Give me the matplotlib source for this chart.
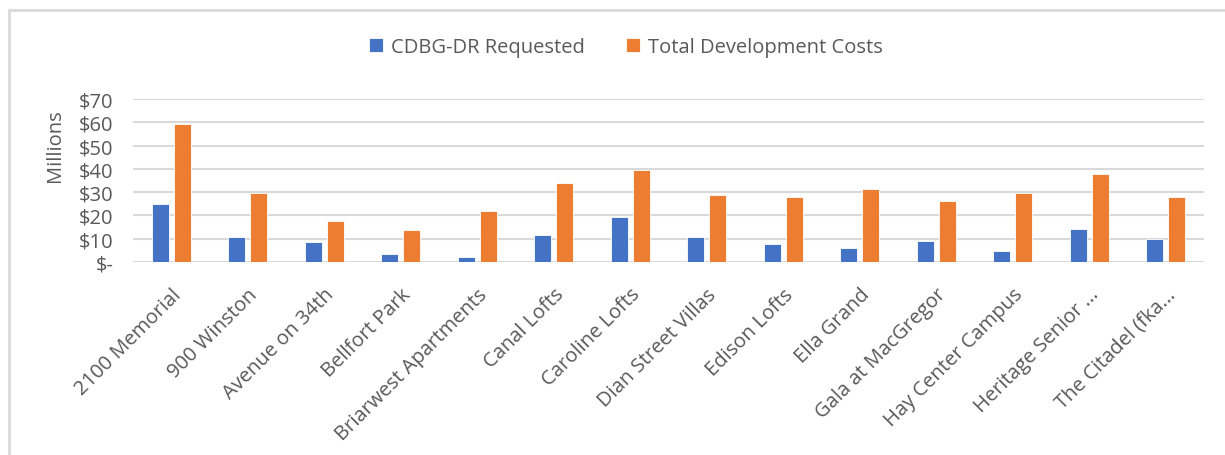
import numpy as np
import matplotlib.pyplot as plt
from matplotlib.patches import Rectangle
from matplotlib.ticker import FuncFormatter

projects = ['2100 Memorial', '900 Winston', 'Avenue on 34th', 'Bellfort Park',
            'Briarwest Apartments', 'Canal Lofts', 'Caroline Lofts',
            'Dian Street Villas', 'Edison Lofts', 'Ella Grand', 'Gala at MacGregor',
            'Hay Center Campus', 'Heritage Senior ...', 'The Citadel (fka...']
# values in millions of dollars
cdbg_requested = [24.7, 10.8, 8.7, 3.3, 2.1, 11.7, 19.4, 10.7, 7.7, 6.1, 9.1, 4.6, 14.1, 9.9]
total_costs = [59.1, 29.7, 17.8, 13.7, 21.9, 34.1, 39.7, 28.7, 27.7, 31.5, 26.1, 29.6, 37.6, 27.9]

blue = '#4472c4'
orange = '#ed7d31'
text_gray = '#595959'
fs = 14.5

plt.rcParams['font.family'] = ['Open Sans', 'DejaVu Sans']

fig = plt.figure(figsize=(12.25, 4.56), dpi=100)
ax = fig.add_axes([133 / 1225, 1 - 263 / 456, (1204 - 133) / 1225, (263 - 100) / 456])

x = np.arange(len(projects))
w = 0.22
off = 0.143
ax.bar(x - off, cdbg_requested, w, color=blue, edgecolor='white', linewidth=0.6,
       label='CDBG-DR Requested', zorder=3)
ax.bar(x + off, total_costs, w, color=orange, edgecolor='white', linewidth=0.6,
       label='Total Development Costs', zorder=3)

ax.set_xlim(-0.5, len(projects) - 0.5)
ax.set_ylim(0, 70)
ax.set_yticks(range(0, 71, 10))
ax.yaxis.set_major_formatter(FuncFormatter(lambda v, p: '$-' if v == 0 else f'${v:.0f}'))
ax.grid(axis='y', color='#d9d9d9', linewidth=1.5, zorder=0)
for s in ax.spines.values():
    s.set_visible(False)
ax.tick_params(axis='both', length=0, colors=text_gray, labelsize=fs)
ax.tick_params(axis='y', pad=14)
ax.set_xticks(x)
ax.set_xticklabels(projects, rotation=45, ha='right', rotation_mode='anchor')
ax.tick_params(axis='x', pad=16)
ax.set_ylabel('Millions', color=text_gray, fontsize=fs)
ax.yaxis.set_label_coords(-0.0635, 0.72)

ax.legend(loc='center', bbox_to_anchor=(0.511, 1 - 48 / 456),
          bbox_transform=fig.transFigure, ncol=2, frameon=False, fontsize=fs,
          labelcolor=text_gray, handlelength=0.7, handleheight=0.7,
          handletextpad=0.4, columnspacing=2.0)

# chart area border
fig.patches.append(Rectangle((9 / 1225, -0.1), 1.2, 1 - 11 / 456 + 0.1,
                             transform=fig.transFigure, fill=False,
                             edgecolor='#d9d9d9', linewidth=2))

fig.savefig('out.png', dpi=100)
